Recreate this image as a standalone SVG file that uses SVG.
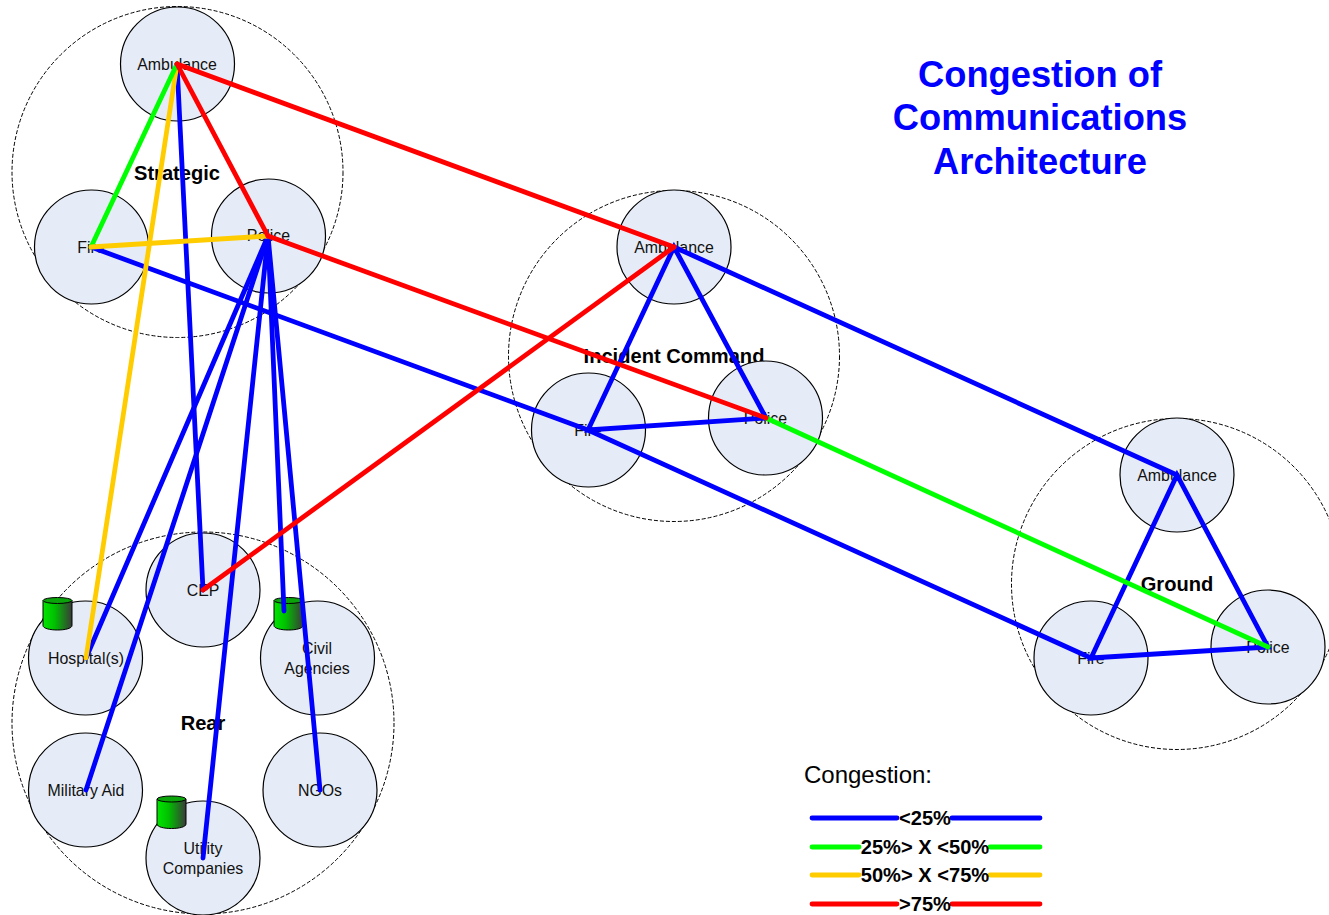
<svg xmlns="http://www.w3.org/2000/svg" width="1329" height="915" viewBox="0 0 1329 915">
<style>
text{font-family:"Liberation Sans",Arial,sans-serif;text-anchor:middle;fill:#000}
.big{fill:none;stroke:#000;stroke-width:1;stroke-dasharray:4 2}
.n{fill:#e6ecf7;stroke:#000;stroke-width:1.2}
.t{font-size:15.9px;fill:#111}
.g{font-size:20.1px;font-weight:bold}
.l{font-size:20.1px;font-weight:bold}
.c{fill:none;stroke-width:4.8;stroke-linecap:round}
.b{stroke:#0000ff}.gr{stroke:#00ff00}.y{stroke:#ffcc00}.r{stroke:#ff0000}
.cy{fill:url(#cyl);stroke:#000;stroke-width:1}
.top{fill:#0aa30a;stroke:#000;stroke-width:1}
.h{font-size:36.3px;font-weight:bold;fill:#0000ff}
</style>
<defs>
<linearGradient id="cyl" x1="0" x2="1" y1="0" y2="0"><stop offset="0" stop-color="#00e600"/><stop offset="0.4" stop-color="#00c000"/><stop offset="1" stop-color="#3a3a3a"/></linearGradient>
<g id="can"><path class="cy" d="M0 4V29C0 35 29 35 29 29V4"/><ellipse class="top" cx="14.5" cy="4" rx="14.5" ry="3"/></g>
</defs>
<rect width="1329" height="915" fill="#fff"/>
<g id="zone-strategic"><circle class="big" cx="177.5" cy="172" r="165.5"/><text class="g" x="177" y="179.500">Strategic</text></g>
<g id="zone-incident"><circle class="big" cx="674" cy="356" r="165.5"/><text class="g" x="674" y="362.500">Incident Command</text></g>
<g id="zone-ground"><circle class="big" cx="1177" cy="584" r="165.5"/><text class="g" x="1177" y="590.500">Ground</text></g>
<g id="zone-rear"><circle class="big" cx="203" cy="723" r="191"/><text class="g" x="203" y="729.500">Rear</text></g>
<g id="s-ambulance"><circle class="n" cx="177.5" cy="64" r="57"/><text class="t" x="177" y="69.500">Ambulance</text></g>
<g id="s-fire"><circle class="n" cx="91.5" cy="247" r="57"/><text class="t" x="91" y="252.500">Fire</text></g>
<g id="s-police"><circle class="n" cx="268.5" cy="236" r="57"/><text class="t" x="268.500" y="240.500">Police</text></g>
<g id="i-ambulance"><circle class="n" cx="674" cy="247" r="57"/><text class="t" x="674" y="252.500">Ambulance</text></g>
<g id="i-fire"><circle class="n" cx="588.500" cy="430" r="57"/><text class="t" x="588" y="435.500">Fire</text></g>
<g id="i-police"><circle class="n" cx="765.500" cy="418" r="57"/><text class="t" x="765.500" y="423.500">Police</text></g>
<g id="g-ambulance"><circle class="n" cx="1177" cy="475" r="57"/><text class="t" x="1177" y="480.500">Ambulance</text></g>
<g id="g-fire"><circle class="n" cx="1091" cy="658" r="57"/><text class="t" x="1091" y="663.500">Fire</text></g>
<g id="g-police"><circle class="n" cx="1268" cy="647" r="57"/><text class="t" x="1268" y="652.500">Police</text></g>
<g id="r-cep"><circle class="n" cx="203" cy="590" r="57"/><text class="t" x="203" y="595.500">CEP</text></g>
<g id="r-hospital"><circle class="n" cx="85.500" cy="658" r="57"/><text class="t" x="86" y="663.500">Hospital(s)</text><use href="#can" x="43" y="596.500"/></g>
<g id="r-civil"><circle class="n" cx="317.500" cy="658" r="57"/><text class="t" x="317" y="653.500">Civil</text><text class="t" x="317" y="673.500">Agencies</text><use href="#can" x="274" y="596.500"/></g>
<g id="r-military"><circle class="n" cx="85.500" cy="790" r="57"/><text class="t" x="86" y="795.500">Military Aid</text></g>
<g id="r-ngos"><circle class="n" cx="320" cy="790" r="57"/><text class="t" x="320" y="795.500">NGOs</text></g>
<g id="r-utility"><circle class="n" cx="203" cy="858" r="57"/><text class="t" x="203" y="853.500">Utility</text><text class="t" x="203" y="873.500">Companies</text><use href="#can" x="157" y="795"/></g>
<g id="connectors">
<path class="c b" d="M177 64L203 590"/>
<path class="c b" d="M91 247L588 430L1091 658"/>
<path class="c b" d="M268 236L86 658"/>
<path class="c b" d="M268 236L86 790"/>
<path class="c b" d="M268 236L203 858"/>
<path class="c b" d="M268 236L284 611"/>
<path class="c b" d="M268 236L320 790"/>
<path class="c b" d="M674 247L588 430L766 418Z"/>
<path class="c b" d="M674 247L1177 475"/>
<path class="c b" d="M1177 475L1091 658L1268 647Z"/>
<path class="c gr" d="M766 418L1268 647"/>
<path class="c y" d="M177 64L86 658"/>
<path class="c gr" d="M177 64L91 247"/>
<path class="c y" d="M91 247L268 236"/>
<path class="c r" d="M177 64L268 236"/>
<path class="c r" d="M177 64L674 247"/>
<path class="c r" d="M268 236L766 418"/>
<path class="c r" d="M674 247L203 590"/>
</g>
<g id="title"><text class="h" x="1040" y="86.500">Congestion of</text><text class="h" x="1040" y="129.500">Communications</text><text class="h" x="1040" y="173.500">Architecture</text></g>
<g id="legend">
<text x="868" y="783" font-size="24">Congestion:</text>
<path class="c b" d="M812 818H897M952 818H1040"/>
<path class="c gr" d="M812 847H859M990 847H1040"/>
<path class="c y" d="M812 875H859M990 875H1040"/>
<path class="c r" d="M812 904H897M952 904H1040"/>
<text class="l" x="925" y="824.500">&lt;25%</text>
<text class="l" x="925" y="853.500">25%&gt; X &lt;50%</text>
<text class="l" x="925" y="881.500">50%&gt; X &lt;75%</text>
<text class="l" x="925" y="910.500">&gt;75%</text>
</g>
</svg>
